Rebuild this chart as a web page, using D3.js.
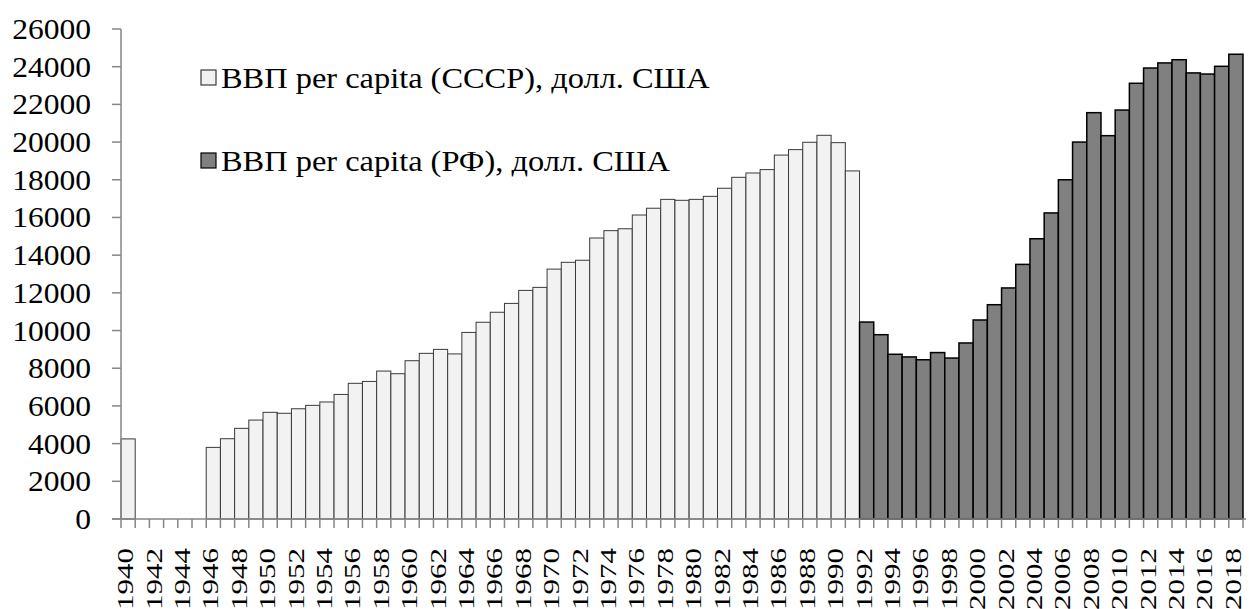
<!DOCTYPE html>
<html>
<head>
<meta charset="utf-8">
<script src="https://cdn.jsdelivr.net/npm/d3@7"></script>
<style>
body { margin: 0; background: #fff; }
</style>
</head>
<body>
<div id="canvas"></div>
<script>
// ----------------------------------------------------------
// DATA -----------------------------------------------------
// ----------------------------------------------------------

// all categories on the x axis
var years = [
1940, 1941, 1942, 1943, 1944, 1945, 1946, 1947, 1948, 1949,
1950, 1951, 1952, 1953, 1954, 1955, 1956, 1957, 1958, 1959,
1960, 1961, 1962, 1963, 1964, 1965, 1966, 1967, 1968, 1969,
1970, 1971, 1972, 1973, 1974, 1975, 1976, 1977, 1978, 1979,
1980, 1981, 1982, 1983, 1984, 1985, 1986, 1987, 1988, 1989,
1990, 1991, 1992, 1993, 1994, 1995, 1996, 1997, 1998, 1999,
2000, 2001, 2002, 2003, 2004, 2005, 2006, 2007, 2008, 2009,
2010, 2011, 2012, 2013, 2014, 2015, 2016, 2017, 2018
];

// USSR series
var ussr_years = [
1940, 1946, 1947, 1948, 1949, 1950, 1951, 1952, 1953, 1954,
1955, 1956, 1957, 1958, 1959, 1960, 1961, 1962, 1963, 1964,
1965, 1966, 1967, 1968, 1969, 1970, 1971, 1972, 1973, 1974,
1975, 1976, 1977, 1978, 1979, 1980, 1981, 1982, 1983, 1984,
1985, 1986, 1987, 1988, 1989, 1990, 1991
];
var ussr_values = [
4250, 3800, 4260, 4810, 5250, 5660, 5610, 5850, 6030, 6210,
6610, 7200, 7300, 7850, 7710, 8400, 8790, 9000, 8760, 9900,
10440, 10970, 11440, 12130, 12290, 13260, 13620, 13730, 14910, 15300,
15400, 16130, 16490, 16960, 16910, 16960, 17120, 17550, 18130, 18360,
18540, 19310, 19600, 19990, 20360, 19970, 18470
];

// Russia series
var rf_years = [
1992, 1993, 1994, 1995, 1996, 1997, 1998, 1999, 2000, 2001,
2002, 2003, 2004, 2005, 2006, 2007, 2008, 2009, 2010, 2011,
2012, 2013, 2014, 2015, 2016, 2017, 2018
];
var rf_values = [
10450, 9780, 8740, 8600, 8450, 8830, 8540, 9340, 10560, 11370,
12260, 13510, 14870, 16240, 18000, 20000, 21560, 20340, 21700, 23120,
23930, 24200, 24370, 23670, 23610, 24020, 24660
];

var y_ticks = [0, 2000, 4000, 6000, 8000, 10000, 12000, 14000, 16000, 18000, 20000, 22000, 24000, 26000];
var x_tick_labels = [
1940, 1942, 1944, 1946, 1948, 1950, 1952, 1954, 1956, 1958,
1960, 1962, 1964, 1966, 1968, 1970, 1972, 1974, 1976, 1978,
1980, 1982, 1984, 1986, 1988, 1990, 1992, 1994, 1996, 1998,
2000, 2002, 2004, 2006, 2008, 2010, 2012, 2014, 2016, 2018
];

var legend_labels = [
"ВВП per capita (СССР), долл. США",
"ВВП per capita (РФ), долл. США"
];


// ----------------------------------------------------------
// STRUCTURE ------------------------------------------------
// ----------------------------------------------------------

var svg_width = 1249;
var svg_height = 609;

var plot_left = 121;
var plot_right = 1243;
var plot_top = 29;
var plot_bottom = 519;

var font_serif = "'Liberation Serif', 'Times New Roman', serif";

var color_ussr = "#f2f2f2";
var color_rf = "#808080";
var color_axis = "#868686";

var container = d3.select("#canvas").append("svg")
.attr("width", svg_width)
.attr("height", svg_height)
.style("display", "block")
.style("background-color", "#fff");

var gfx_group = container.append("g").attr("class", "gfx_group");
var axis_group = container.append("g").attr("class", "axis_group");
var legend_group = container.append("g").attr("class", "legend_group");

// scales
var xScale = d3.scaleBand()
.domain(years)
.range([plot_left, plot_right])
.padding(0);

var yScale = d3.scaleLinear()
.domain([0, 26000])
.range([plot_bottom, plot_top]);


// ----------------------------------------------------------
// GFX ------------------------------------------------------
// ----------------------------------------------------------

var ussr_data = ussr_years.map(function (y, i) { return { year: y, value: ussr_values[i] }; });
var rf_data = rf_years.map(function (y, i) { return { year: y, value: rf_values[i] }; });

gfx_group.selectAll(".bar_ussr")
.data(ussr_data)
.enter()
.append("rect")
.attr("class", "bar_ussr")
.attr("x", function (d) { return xScale(d.year); })
.attr("y", function (d) { return yScale(d.value); })
.attr("width", xScale.bandwidth())
.attr("height", function (d) { return plot_bottom - yScale(d.value); })
.style("fill", color_ussr)
.style("stroke", "#3a3a3a")
.style("stroke-width", 1);

gfx_group.selectAll(".bar_rf")
.data(rf_data)
.enter()
.append("rect")
.attr("class", "bar_rf")
.attr("x", function (d) { return xScale(d.year); })
.attr("y", function (d) { return yScale(d.value); })
.attr("width", xScale.bandwidth())
.attr("height", function (d) { return plot_bottom - yScale(d.value); })
.style("fill", color_rf)
.style("stroke", "#000")
.style("stroke-width", 1.5);


// ----------------------------------------------------------
// AXES -----------------------------------------------------
// ----------------------------------------------------------

// y axis line
axis_group.append("line")
.attr("x1", plot_left).attr("x2", plot_left)
.attr("y1", plot_top).attr("y2", plot_bottom)
.style("stroke", color_axis)
.style("stroke-width", 1.5);

// y ticks
axis_group.selectAll(".y_tick")
.data(y_ticks)
.enter()
.append("line")
.attr("class", "y_tick")
.attr("x1", plot_left - 9).attr("x2", plot_left)
.attr("y1", function (d) { return yScale(d); })
.attr("y2", function (d) { return yScale(d); })
.style("stroke", color_axis)
.style("stroke-width", 1.5);

// y labels
axis_group.selectAll(".y_label")
.data(y_ticks)
.enter()
.append("text")
.attr("class", "y_label")
.attr("text-anchor", "end")
.attr("transform", function (d) { return "translate(91," + (yScale(d) + 10) + ") scale(1.07,1)"; })
.style("font-family", font_serif)
.style("font-size", "29.5px")
.style("fill", "#000")
.text(function (d) { return d; });

// x axis line
axis_group.append("line")
.attr("x1", plot_left - 9).attr("x2", plot_right + 3)
.attr("y1", plot_bottom).attr("y2", plot_bottom)
.style("stroke", color_axis)
.style("stroke-width", 1.5);

// x ticks at every band edge
var x_edges = years.map(function (d) { return xScale(d); }).concat([plot_right]);
axis_group.selectAll(".x_tick")
.data(x_edges)
.enter()
.append("line")
.attr("class", "x_tick")
.attr("x1", function (d) { return d; }).attr("x2", function (d) { return d; })
.attr("y1", plot_bottom).attr("y2", plot_bottom + 9)
.style("stroke", color_axis)
.style("stroke-width", 1.5);

// x labels, rotated
axis_group.selectAll(".x_label")
.data(x_tick_labels)
.enter()
.append("text")
.attr("class", "x_label")
.attr("text-anchor", "end")
.attr("transform", function (d) {
return "translate(" + (xScale(d) + xScale.bandwidth() / 2 + 5) + ",548) rotate(-90) scale(1,0.76)";
})
.style("font-family", font_serif)
.style("font-size", "31px")
.style("fill", "#000")
.text(function (d) { return d; });


// ----------------------------------------------------------
// LEGEND ---------------------------------------------------
// ----------------------------------------------------------

var legend_items = [
{ label: legend_labels[0], fill: color_ussr, stroke: "#3a3a3a", y: 70 },
{ label: legend_labels[1], fill: color_rf, stroke: "#000", y: 153 }
];

var legend = legend_group.selectAll(".legend_item")
.data(legend_items)
.enter()
.append("g")
.attr("class", "legend_item");

legend.append("rect")
.attr("x", 201)
.attr("y", function (d) { return d.y; })
.attr("width", 15)
.attr("height", 15)
.style("fill", function (d) { return d.fill; })
.style("stroke", function (d) { return d.stroke; })
.style("stroke-width", 1.2);

legend.append("text")
.attr("transform", function (d) { return "translate(221," + (d.y + 18) + ") scale(1.08,1)"; })
.style("font-family", font_serif)
.style("font-size", "30px")
.style("fill", "#000")
.text(function (d) { return d.label; });
</script>
</body>
</html>
